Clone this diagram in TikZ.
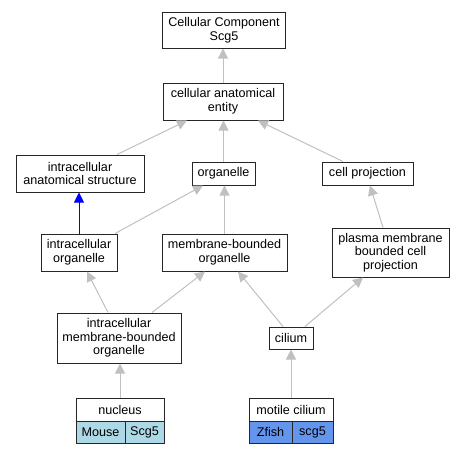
\documentclass[tikz,border=0pt]{standalone}
\usepackage{fontspec}
\setmainfont{Liberation Sans}
\usetikzlibrary{arrows.meta,calc}
\definecolor{edgegray}{HTML}{C0C0C0}
\definecolor{mouseblue}{HTML}{ADD8E6}
\definecolor{zfishblue}{HTML}{6495ED}
\begin{document}
\begin{tikzpicture}[x=1pt,y=-1pt,
  box/.style={draw=black!85, line width=1pt, fill=white, inner sep=0pt, align=center,
    font=\fontsize{12.6}{13.6}\selectfont},
  edge/.style={draw=edgegray, line width=1pt, -{Triangle[length=10pt,width=10pt]}},
  blueedge/.style={draw=blue, line width=1pt, -{Triangle[length=10pt,width=10pt]}}]
\useasboundingbox (0,0) rectangle (465,453);
\node[box, minimum width=123pt, minimum height=36pt] (top) at (224,30) {Cellular Component\\Scg5};
\node[box, minimum width=120pt, minimum height=37pt] (entity) at (223,101.5) {cellular anatomical\\entity};
\node[box, minimum width=128pt, minimum height=37pt] (ias) at (80,173.5) {intracellular\\anatomical structure};
\node[box, minimum width=63pt, minimum height=23pt] (organelle) at (223.5,173.5) {organelle};
\node[box, minimum width=91pt, minimum height=23pt] (cellproj) at (367.5,173.5) {cell projection};
\node[box, minimum width=76pt, minimum height=37pt] (io) at (79,252.5) {intracellular\\organelle};
\node[box, minimum width=125pt, minimum height=37pt] (mbo) at (224.5,252.5) {membrane-bounded\\organelle};
\node[box, minimum width=117pt, minimum height=49pt] (pmbcp) at (390.5,252.5) {plasma membrane\\bounded cell\\projection};
\node[box, minimum width=124pt, minimum height=50pt] (imbo) at (119,338) {intracellular\\membrane-bounded\\organelle};
\node[box, minimum width=44pt, minimum height=22pt] (cilium) at (291,338) {cilium};
\node[box, minimum width=88pt, minimum height=23pt] (nucleus) at (120,409.5) {nucleus};
\node[box, fill=mouseblue, minimum width=49pt, minimum height=22pt] (mouse) at (100.5,432) {Mouse};
\node[box, fill=mouseblue, minimum width=39pt, minimum height=22pt] (scgm) at (144.5,432) {Scg5};
\node[box, minimum width=84pt, minimum height=23pt] (motile) at (291,409.5) {motile cilium};
\node[box, fill=zfishblue, minimum width=43pt, minimum height=22pt] (zfish) at (270.5,432) {Zfish};
\node[box, fill=zfishblue, minimum width=41pt, minimum height=22pt] (scgz) at (312.5,432) {scg5};
\draw[edge] (entity.north) -- (entity.north |- top.south);
\draw[edge] ($(ias.north)+(37,0)$) -- ($(entity.south)+(-36,0)$);
\draw[edge] (organelle.north) -- (organelle.north |- entity.south);
\draw[edge] ($(cellproj.north)+(-24.5,0)$) -- ($(entity.south)+(35,0)$);
\draw[edge] ($(io.north)+(36,0)$) -- ($(organelle.south)+(-20.5,0)$);
\draw[blueedge] (io.north) -- (io.north |- ias.south);
\draw[edge] (mbo.north) -- (mbo.north |- organelle.south);
\draw[edge] ($(pmbcp.north)+(-7.5,0)$) -- ($(cellproj.south)+(2.5,0)$);
\draw[edge] ($(imbo.north)+(-11,0)$) -- ($(io.south)+(8,0)$);
\draw[edge] ($(imbo.north)+(33,0)$) -- ($(mbo.south)+(-19.5,0)$);
\draw[edge] ($(cilium.north)+(-8,0)$) -- ($(mbo.south)+(13.5,0)$);
\draw[edge] ($(cilium.north)+(14,0)$) -- ($(pmbcp.south)+(-27.5,0)$);
\draw[edge] (nucleus.north) -- (nucleus.north |- imbo.south);
\draw[edge] (motile.north) -- (motile.north |- cilium.south);
\end{tikzpicture}
\end{document}
